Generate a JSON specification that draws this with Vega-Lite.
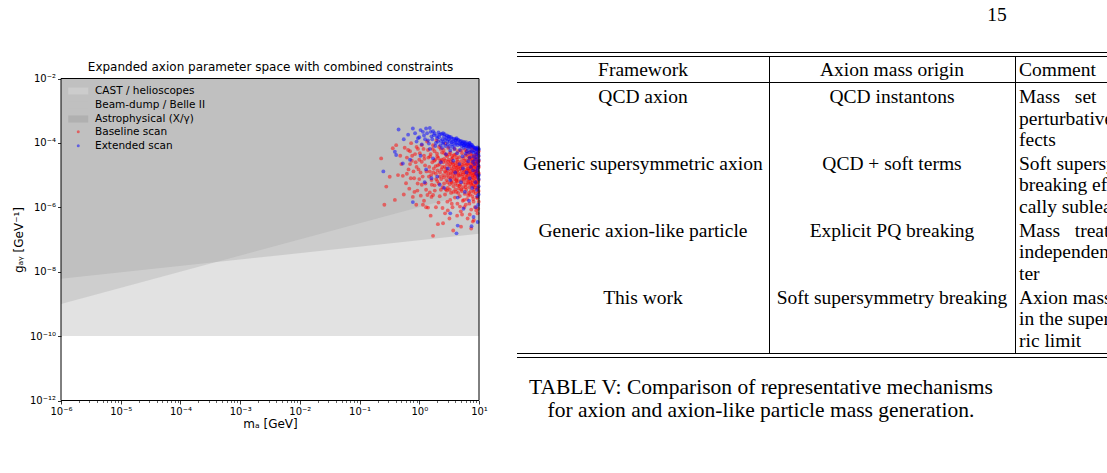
{
  "$schema": "https://vega.github.io/schema/vega-lite/v6.json",
  "width": 1107,
  "height": 473,
  "padding": 0,
  "autosize": {"type": "none"},
  "background": "white",
  "config": {"view": {"stroke": null}, "font": "DejaVu Sans"},
  "datasets": {
    "cast": [{"m": 1e-6, "lo": 1e-10, "hi": 0.01}, {"m": 10, "lo": 1e-10, "hi": 0.01}],
    "beam": [{"m": 1e-6, "lo": 6e-9, "hi": 0.01}, {"m": 10, "lo": 1.5e-7, "hi": 0.01}],
    "astro": [{"m": 1e-6, "lo": 1e-9, "hi": 0.01}, {"m": 10, "lo": 3.2e-6, "hi": 0.01}],
    "frame": [{"m0": 1e-6, "m1": 10, "g0": 1e-12, "g1": 0.01}],
    "baseline": [
      {"m":0.23,"g":3.3e-5},{"m":0.32,"g":8.9e-6},{"m":0.26,"g":1.2e-6},{"m":0.28,"g":4.4e-6},{"m":0.39,"g":1.7e-6},{"m":0.44,"g":1.0e-5},{"m":0.53,"g":9.5e-6},{"m":0.36,"g":6.8e-5},{"m":0.57,"g":7.1e-5},{"m":0.73,"g":9.8e-5},{"m":1.7,"g":1.3e-7},{"m":2.05,"g":3.0e-7},{"m":2.5,"g":3.2e-7},{"m":1.15,"g":1.2e-6},{"m":1.4,"g":9.8e-7},{"m":1.6,"g":2.1e-6},{"m":1.5,"g":2.9e-6},{"m":0.41,"g":8.5e-5},{"m":0.6,"g":5.6e-6},{"m":0.78,"g":2.1e-6},{"m":3.7,"g":1.9e-7},{"m":5.0,"g":2.5e-7},{"m":7.4,"g":2.2e-7},{"m":7.9,"g":3.6e-7},{"m":0.89,"g":1.2e-6},{"m":1.3,"g":1.0e-6},
      {"m":0.48,"g":4.0e-5},{"m":0.5,"g":2.2e-5},{"m":0.62,"g":3.5e-5},{"m":0.66,"g":1.5e-5},{"m":0.7,"g":5.5e-5},{"m":0.75,"g":2.8e-5},{"m":0.82,"g":8.0e-6},{"m":0.85,"g":4.5e-5},{"m":0.9,"g":1.8e-5},{"m":0.95,"g":6.5e-5},{"m":1.0,"g":3.0e-5},{"m":1.05,"g":1.2e-5},{"m":1.1,"g":5.0e-6},{"m":1.1,"g":8.5e-5},{"m":1.2,"g":4.0e-5},{"m":1.25,"g":2.0e-5},{"m":1.3,"g":3.5e-6},{"m":1.35,"g":1.1e-4},{"m":1.4,"g":6.0e-5},{"m":1.45,"g":9.0e-6},{"m":0.68,"g":3.8e-6},{"m":0.93,"g":3.3e-6},{"m":1.0,"g":7.5e-6},{"m":1.2,"g":1.6e-6},{"m":0.55,"g":2.5e-6},
      {"m":1.5,"g":1.3e-5},{"m":1.55,"g":4.5e-5},{"m":1.6,"g":7.0e-6},{"m":1.65,"g":2.5e-5},{"m":1.7,"g":8.5e-5},{"m":1.75,"g":1.6e-5},{"m":1.8,"g":4.8e-6},{"m":1.8,"g":5.5e-5},{"m":1.85,"g":3.0e-5},{"m":1.9,"g":1.1e-5},{"m":1.95,"g":1.2e-4},{"m":2.0,"g":6.5e-6},{"m":2.0,"g":3.8e-5},{"m":2.05,"g":2.0e-5},{"m":2.1,"g":1.4e-6},{"m":2.15,"g":7.5e-5},{"m":2.2,"g":9.0e-6},{"m":2.25,"g":2.8e-5},{"m":2.3,"g":3.5e-6},{"m":2.35,"g":1.5e-5},{"m":2.4,"g":5.0e-5},{"m":2.45,"g":9.5e-7},{"m":1.7,"g":2.4e-6},{"m":1.9,"g":1.0e-6},{"m":2.2,"g":2.2e-6},{"m":1.55,"g":5.5e-7},
      {"m":2.5,"g":1.0e-5},{"m":2.55,"g":6.0e-5},{"m":2.6,"g":3.2e-5},{"m":2.6,"g":5.5e-6},{"m":2.65,"g":1.8e-5},{"m":2.7,"g":2.5e-6},{"m":2.75,"g":9.5e-5},{"m":2.8,"g":1.2e-5},{"m":2.8,"g":4.2e-5},{"m":2.85,"g":7.0e-6},{"m":2.9,"g":2.2e-5},{"m":2.95,"g":1.5e-6},{"m":3.0,"g":4.0e-6},{"m":3.0,"g":1.4e-5},{"m":3.05,"g":7.0e-5},{"m":3.1,"g":3.0e-5},{"m":3.15,"g":8.5e-6},{"m":3.2,"g":1.9e-5},{"m":3.25,"g":5.2e-6},{"m":3.3,"g":5.0e-5},{"m":3.35,"g":1.1e-5},{"m":3.4,"g":2.8e-6},{"m":3.4,"g":2.6e-5},{"m":3.45,"g":6.2e-6},{"m":3.5,"g":1.6e-5},{"m":3.55,"g":4.0e-5},{"m":3.6,"g":9.0e-6},{"m":3.6,"g":1.0e-6},{"m":3.65,"g":3.4e-5},{"m":3.7,"g":2.1e-5},{"m":3.75,"g":4.5e-6},{"m":3.8,"g":1.3e-5},{"m":3.85,"g":7.5e-6},{"m":3.9,"g":6.5e-5},{"m":3.95,"g":2.0e-6},{"m":4.0,"g":2.4e-5},{"m":2.7,"g":6.5e-7},{"m":3.2,"g":4.5e-7},{"m":3.0,"g":8.0e-7},{"m":3.5,"g":1.3e-6},{"m":2.9,"g":3.3e-6},{"m":3.3,"g":1.7e-6},
      {"m":4.05,"g":5.5e-6},{"m":4.1,"g":1.1e-5},{"m":4.1,"g":4.4e-5},{"m":4.15,"g":3.0e-6},{"m":4.2,"g":1.7e-5},{"m":4.25,"g":8.0e-6},{"m":4.3,"g":3.0e-5},{"m":4.35,"g":1.3e-6},{"m":4.4,"g":1.2e-5},{"m":4.45,"g":5.5e-5},{"m":4.5,"g":6.5e-6},{"m":4.5,"g":2.2e-5},{"m":4.6,"g":3.8e-6},{"m":4.6,"g":1.5e-5},{"m":4.65,"g":9.5e-6},{"m":4.7,"g":3.6e-5},{"m":4.75,"g":2.2e-6},{"m":4.8,"g":1.9e-5},{"m":4.85,"g":5.0e-6},{"m":4.9,"g":1.1e-5},{"m":4.95,"g":7.5e-7},{"m":5.0,"g":2.7e-5},{"m":5.05,"g":7.0e-6},{"m":5.1,"g":1.4e-5},{"m":5.15,"g":3.2e-6},{"m":5.2,"g":4.8e-5},{"m":5.25,"g":9.0e-6},{"m":5.3,"g":1.8e-5},{"m":5.35,"g":1.6e-6},{"m":5.4,"g":4.2e-6},{"m":5.45,"g":3.3e-5},{"m":5.5,"g":1.2e-5},{"m":5.55,"g":6.0e-6},{"m":5.6,"g":2.3e-5},{"m":5.65,"g":1.0e-6},{"m":5.7,"g":8.0e-6},{"m":5.75,"g":1.5e-5},{"m":5.8,"g":2.6e-6},{"m":5.85,"g":6.0e-5},{"m":5.9,"g":4.0e-5},{"m":5.95,"g":5.0e-6},{"m":6.0,"g":2.0e-5},{"m":6.05,"g":1.05e-5},{"m":6.1,"g":3.5e-6},{"m":6.15,"g":2.9e-5},{"m":6.2,"g":7.0e-6},{"m":6.25,"g":1.35e-5},{"m":6.3,"g":1.8e-6},{"m":6.35,"g":4.6e-5},{"m":6.4,"g":9.5e-6},{"m":6.45,"g":4.5e-7},{"m":4.3,"g":5.5e-7},{"m":5.2,"g":6.0e-7},{"m":6.0,"g":1.2e-6},{"m":4.8,"g":1.05e-6},
      {"m":6.5,"g":2.4e-5},{"m":6.55,"g":5.5e-6},{"m":6.6,"g":1.6e-5},{"m":6.65,"g":3.8e-5},{"m":6.7,"g":1.1e-5},{"m":6.75,"g":2.8e-6},{"m":6.8,"g":7.5e-6},{"m":6.85,"g":2.0e-5},{"m":6.9,"g":1.3e-6},{"m":6.95,"g":4.2e-6},{"m":7.0,"g":3.1e-5},{"m":7.05,"g":1.3e-5},{"m":7.1,"g":6.5e-6},{"m":7.15,"g":5.3e-5},{"m":7.2,"g":9.0e-6},{"m":7.25,"g":2.2e-5},{"m":7.3,"g":3.2e-6},{"m":7.35,"g":1.6e-5},{"m":7.4,"g":8.5e-7},{"m":7.45,"g":5.0e-6},{"m":7.5,"g":2.6e-5},{"m":7.55,"g":1.15e-5},{"m":7.6,"g":4.0e-5},{"m":7.65,"g":7.0e-6},{"m":7.7,"g":1.9e-5},{"m":7.75,"g":2.2e-6},{"m":7.8,"g":1.4e-5},{"m":7.85,"g":5.8e-6},{"m":7.9,"g":3.0e-5},{"m":7.95,"g":1.0e-5},{"m":8.0,"g":4.6e-6},{"m":8.05,"g":2.1e-5},{"m":8.1,"g":1.5e-6},{"m":8.15,"g":8.0e-6},{"m":8.2,"g":1.7e-5},{"m":8.25,"g":6.0e-5},{"m":8.3,"g":3.5e-6},{"m":8.35,"g":1.25e-5},{"m":8.4,"g":2.7e-5},{"m":8.45,"g":6.5e-6},{"m":8.5,"g":9.5e-6},{"m":8.55,"g":1.0e-6},{"m":8.6,"g":3.6e-5},{"m":8.65,"g":1.5e-5},{"m":8.7,"g":4.8e-6},{"m":8.75,"g":2.3e-5},{"m":8.8,"g":2.7e-6},{"m":8.85,"g":1.1e-5},{"m":8.9,"g":7.5e-6},{"m":8.95,"g":4.5e-5},{"m":9.0,"g":1.8e-5},{"m":9.05,"g":5.5e-6},{"m":9.1,"g":1.3e-5},{"m":9.15,"g":2.0e-6},{"m":9.2,"g":3.2e-5},{"m":9.25,"g":8.5e-6},{"m":9.3,"g":2.5e-5},{"m":9.35,"g":4.0e-6},{"m":9.4,"g":1.6e-5},{"m":9.45,"g":6.5e-7},{"m":9.5,"g":1.0e-5},{"m":9.55,"g":5.0e-5},{"m":9.6,"g":6.0e-6},{"m":9.65,"g":2.0e-5},{"m":9.7,"g":3.0e-6},{"m":9.75,"g":1.2e-5},{"m":9.8,"g":3.8e-5},{"m":9.85,"g":7.0e-6},{"m":9.9,"g":1.5e-6},{"m":9.95,"g":2.8e-5},{"m":7.0,"g":6.0e-7},{"m":8.2,"g":4.0e-7},{"m":9.0,"g":8.0e-7},{"m":6.8,"g":8.0e-5},{"m":7.6,"g":7.0e-5},{"m":9.3,"g":6.5e-5},{"m":9.7,"g":9.0e-7},
      {"m":4.2,"g":6.5e-6},{"m":4.4,"g":2.6e-5},{"m":4.55,"g":1.0e-5},{"m":4.7,"g":4.6e-6},{"m":4.9,"g":1.6e-5},{"m":5.05,"g":3.6e-6},{"m":5.2,"g":2.1e-5},{"m":5.35,"g":1.05e-5},{"m":5.5,"g":7.5e-6},{"m":5.7,"g":2.8e-5},{"m":5.85,"g":1.25e-5},{"m":6.0,"g":4.2e-6},{"m":6.15,"g":8.5e-6},{"m":6.3,"g":2.2e-5},{"m":6.45,"g":1.6e-5},{"m":6.6,"g":6.0e-6},{"m":6.75,"g":1.35e-5},{"m":6.9,"g":3.4e-5},{"m":7.05,"g":2.5e-6},{"m":7.2,"g":1.1e-5},{"m":7.35,"g":5.5e-6},{"m":7.5,"g":1.7e-5},{"m":7.65,"g":3.3e-5},{"m":7.8,"g":8.5e-6},{"m":7.95,"g":2.4e-5},{"m":8.1,"g":3.0e-6},{"m":8.25,"g":1.05e-5},{"m":8.4,"g":4.2e-6},{"m":8.55,"g":1.9e-5},{"m":8.7,"g":1.3e-5},{"m":8.85,"g":3.1e-5},{"m":9.0,"g":6.0e-6},{"m":9.15,"g":2.3e-5},{"m":9.3,"g":9.5e-6},{"m":9.45,"g":1.4e-5},{"m":9.6,"g":4.0e-6},{"m":9.75,"g":2.6e-5},{"m":9.9,"g":1.1e-5},{"m":9.95,"g":1.8e-5},{"m":9.85,"g":3.2e-6},{"m":9.5,"g":1.95e-6},{"m":8.0,"g":1.8e-6},{"m":6.6,"g":2.3e-6},{"m":5.6,"g":1.7e-6},{"m":9.2,"g":4.5e-5},{"m":8.3,"g":4.0e-5},{"m":7.3,"g":4.5e-5},{"m":6.2,"g":5.5e-5},{"m":5.0,"g":5.8e-5},{"m":9.9,"g":5.5e-5},
      {"m":0.62,"g":1.1e-5},{"m":0.65,"g":6.0e-5},{"m":0.7,"g":2.2e-5},{"m":0.72,"g":8.0e-6},{"m":0.76,"g":4.0e-5},{"m":0.8,"g":1.3e-5},{"m":0.83,"g":3.0e-6},{"m":0.87,"g":2.5e-5},{"m":0.9,"g":7.5e-5},{"m":0.94,"g":5.5e-6},{"m":0.97,"g":1.5e-5},{"m":1.02,"g":4.8e-5},{"m":1.06,"g":2.3e-6},{"m":1.1,"g":2.6e-5},{"m":1.14,"g":9.0e-6},{"m":1.18,"g":6.5e-5},{"m":1.22,"g":3.2e-5},{"m":1.27,"g":5.5e-6},{"m":1.32,"g":1.3e-5},{"m":1.37,"g":2.4e-6},{"m":1.42,"g":3.5e-5},{"m":1.47,"g":1.8e-5},
      {"m":1.52,"g":3.8e-5},{"m":1.58,"g":1.0e-5},{"m":1.62,"g":5.0e-6},{"m":1.68,"g":6.5e-5},{"m":1.72,"g":1.2e-5},{"m":1.78,"g":2.8e-5},{"m":1.82,"g":3.3e-6},{"m":1.88,"g":1.9e-5},{"m":1.92,"g":7.5e-6},{"m":1.98,"g":4.6e-5},{"m":2.02,"g":1.4e-5},{"m":2.08,"g":3.4e-5},{"m":2.12,"g":5.5e-6},{"m":2.18,"g":2.2e-5},{"m":2.22,"g":1.2e-5},{"m":2.28,"g":6.5e-5},{"m":2.33,"g":7.5e-6},{"m":2.38,"g":3.0e-5},{"m":2.42,"g":1.8e-5},{"m":2.47,"g":4.2e-6},{"m":2.52,"g":2.5e-5},{"m":2.58,"g":8.5e-6},{"m":2.63,"g":4.8e-5},{"m":2.68,"g":1.3e-5},{"m":2.73,"g":2.8e-5},{"m":2.78,"g":3.6e-6},{"m":2.83,"g":1.6e-5},{"m":2.88,"g":9.5e-6},{"m":2.93,"g":3.8e-5},{"m":2.98,"g":6.0e-6},
      {"m":3.05,"g":2.6e-5},{"m":3.12,"g":1.1e-5},{"m":3.18,"g":4.4e-5},{"m":3.24,"g":3.5e-6},{"m":3.3,"g":2.2e-5},{"m":3.36,"g":8.0e-6},{"m":3.42,"g":1.4e-5},{"m":3.48,"g":3.2e-5},{"m":3.54,"g":5.8e-6},{"m":3.6,"g":2.4e-5},{"m":3.66,"g":1.15e-5},{"m":3.72,"g":3.0e-6},{"m":3.78,"g":1.8e-5},{"m":3.84,"g":4.2e-5},{"m":3.9,"g":9.5e-6},{"m":3.96,"g":1.5e-5},{"m":4.02,"g":3.6e-6},{"m":4.08,"g":2.0e-5},{"m":4.14,"g":7.0e-6},{"m":4.22,"g":3.5e-5},{"m":4.28,"g":1.35e-5},{"m":4.36,"g":4.8e-6},{"m":4.42,"g":1.8e-5},{"m":4.48,"g":2.8e-6}
    ],
    "extended": [
      {"m":0.45,"g":2.6e-4},{"m":0.78,"g":2.8e-4},{"m":1.15,"g":2.2e-4},{"m":1.3,"g":2.8e-4},{"m":1.5,"g":2.9e-4},{"m":1.7,"g":2.3e-4},{"m":2.2,"g":1.8e-4},{"m":2.5,"g":2.0e-4},{"m":3.2,"g":1.55e-4},{"m":4.2,"g":1.4e-4},{"m":5.4,"g":1.1e-4},{"m":7.0,"g":9.8e-5},{"m":7.9,"g":7.6e-5},{"m":0.39,"g":5.3e-5},{"m":0.25,"g":1.3e-5},{"m":0.53,"g":2.3e-5},{"m":0.78,"g":1.45e-6},{"m":4.2,"g":1.55e-7},{"m":4.4,"g":2.7e-7},{"m":0.41,"g":4.2e-5},{"m":1.23,"g":6.0e-6},
      {"m":1.0,"g":1.5e-4},{"m":1.1,"g":9.0e-5},{"m":1.2,"g":1.7e-4},{"m":1.4,"g":1.2e-4},{"m":1.6,"g":1.6e-4},{"m":1.8,"g":2.0e-4},{"m":1.9,"g":1.0e-4},{"m":2.0,"g":1.4e-4},{"m":2.1,"g":2.1e-4},{"m":2.3,"g":1.15e-4},{"m":2.4,"g":7.0e-5},{"m":2.6,"g":1.6e-4},{"m":2.7,"g":1.25e-4},{"m":2.9,"g":1.7e-4},{"m":3.0,"g":9.0e-5},{"m":3.1,"g":1.3e-4},{"m":3.4,"g":1.5e-4},{"m":3.5,"g":1.05e-4},{"m":3.6,"g":7.5e-5},{"m":3.8,"g":1.35e-4},{"m":4.0,"g":1.0e-4},{"m":4.1,"g":1.3e-4},{"m":4.4,"g":8.5e-5},{"m":4.6,"g":1.2e-4},{"m":4.8,"g":6.0e-5},{"m":5.0,"g":1.15e-4},{"m":5.2,"g":9.5e-5},{"m":5.5,"g":7.0e-5},{"m":5.7,"g":1.05e-4},{"m":5.9,"g":8.0e-5},{"m":6.1,"g":1.05e-4},{"m":6.3,"g":5.5e-5},{"m":6.5,"g":9.2e-5},{"m":6.7,"g":7.5e-5},{"m":6.9,"g":1.0e-4},{"m":7.2,"g":6.0e-5},{"m":7.4,"g":8.8e-5},{"m":7.7,"g":8.5e-5},{"m":8.0,"g":5.0e-5},{"m":8.2,"g":7.2e-5},{"m":8.5,"g":7.0e-5},{"m":8.8,"g":6.8e-5},{"m":9.0,"g":4.5e-5},{"m":9.2,"g":6.4e-5},{"m":9.5,"g":6.0e-5},{"m":9.8,"g":6.8e-5},{"m":9.9,"g":4.0e-5},{"m":4.3,"g":4.8e-5},{"m":3.3,"g":5.8e-5},{"m":5.3,"g":3.8e-5},{"m":7.0,"g":3.5e-5},{"m":8.6,"g":3.0e-5},{"m":9.6,"g":2.5e-5},{"m":6.0,"g":4.6e-5},{"m":2.8,"g":4.5e-5},{"m":1.5,"g":6.5e-5},{"m":0.9,"g":1.1e-4},{"m":0.65,"g":1.8e-4},{"m":0.55,"g":1.3e-4},
      {"m":0.7,"g":3.0e-5},{"m":1.05,"g":4.0e-5},{"m":1.3,"g":1.5e-5},{"m":1.7,"g":3.3e-5},{"m":2.0,"g":9.0e-6},{"m":2.3,"g":2.5e-5},{"m":2.6,"g":4.0e-6},{"m":3.0,"g":1.6e-5},{"m":3.3,"g":7.0e-6},{"m":3.7,"g":2.8e-5},{"m":4.0,"g":1.2e-5},{"m":4.4,"g":2.0e-6},{"m":4.7,"g":2.2e-5},{"m":5.0,"g":6.0e-6},{"m":5.4,"g":1.6e-5},{"m":5.8,"g":3.0e-6},{"m":6.2,"g":1.2e-5},{"m":6.6,"g":2.7e-5},{"m":7.0,"g":8.0e-6},{"m":7.3,"g":1.8e-5},{"m":7.7,"g":4.0e-6},{"m":8.0,"g":1.4e-5},{"m":8.4,"g":2.2e-5},{"m":8.7,"g":6.0e-6},{"m":9.0,"g":1.1e-5},{"m":9.3,"g":3.5e-6},{"m":9.6,"g":1.7e-5},{"m":9.9,"g":7.5e-6},{"m":9.7,"g":1.2e-6},{"m":9.4,"g":2.2e-6},{"m":8.9,"g":1.0e-6},{"m":9.85,"g":4.5e-6},{"m":9.95,"g":1.0e-5},{"m":9.8,"g":2.0e-5},{"m":6.8,"g":1.6e-6},{"m":5.5,"g":9.0e-7},{"m":8.1,"g":5.0e-7},{"m":9.5,"g":3.5e-7},{"m":7.5,"g":2.6e-7},{"m":3.3,"g":6.5e-7},{"m":2.2,"g":5.0e-6},{"m":1.6,"g":8.0e-6},
      {"m":6.4,"g":6.8e-5},{"m":7.1,"g":8.0e-5},{"m":7.6,"g":5.5e-5},{"m":8.3,"g":5.8e-5},{"m":8.9,"g":5.2e-5},{"m":9.4,"g":7.2e-5},{"m":9.7,"g":4.8e-5},{"m":9.95,"g":6.2e-5},{"m":9.1,"g":3.6e-5},{"m":8.1,"g":3.8e-5},{"m":6.8,"g":5.0e-5},{"m":5.6,"g":8.5e-5},{"m":4.9,"g":9.0e-5},{"m":3.9,"g":6.5e-5},{"m":2.5,"g":9.5e-5},{"m":9.9,"g":3.0e-5},{"m":9.6,"g":9.0e-6},{"m":9.85,"g":2.5e-6},{"m":9.3,"g":1.4e-5},{"m":7.9,"g":2.6e-5},
      {"m":0.85,"g":2.0e-4},{"m":0.95,"g":1.4e-4},{"m":1.05,"g":2.5e-4},{"m":1.25,"g":1.3e-4},{"m":1.35,"g":2.0e-4},{"m":1.45,"g":9.5e-5},{"m":1.55,"g":2.2e-4},{"m":1.65,"g":1.3e-4},{"m":1.75,"g":1.75e-4},{"m":1.85,"g":8.0e-5},{"m":1.95,"g":1.65e-4},{"m":2.05,"g":1.1e-4},{"m":2.15,"g":1.5e-4},{"m":2.25,"g":8.5e-5},{"m":2.35,"g":1.9e-4},{"m":2.45,"g":1.3e-4},{"m":2.55,"g":1.05e-4},{"m":2.65,"g":1.85e-4},{"m":2.75,"g":8.0e-5},{"m":2.85,"g":1.4e-4},{"m":2.95,"g":1.1e-4},{"m":3.05,"g":1.6e-4},{"m":3.15,"g":7.5e-5},{"m":3.25,"g":1.15e-4},{"m":3.45,"g":9.0e-5},{"m":3.55,"g":1.35e-4},{"m":3.7,"g":1.1e-4},{"m":3.9,"g":8.5e-5},{"m":4.05,"g":1.2e-4},{"m":4.25,"g":1.0e-4},{"m":4.45,"g":1.25e-4},{"m":4.65,"g":9.5e-5},{"m":4.85,"g":1.1e-4},{"m":5.1,"g":8.0e-5},{"m":5.35,"g":1.0e-4},{"m":5.65,"g":8.5e-5},{"m":5.95,"g":9.5e-5},{"m":6.25,"g":8.0e-5},{"m":6.6,"g":8.8e-5},{"m":7.3,"g":7.5e-5}
    ],
    "hrules": [{"edge": 0}, {"edge": 1}, {"edge": 2}, {"edge": 3}, {"edge": 4}],
    "vrules": [{"bound": 1}, {"bound": 2}],
    "cells": [
      {"row": 0, "col": 0, "text": "Framework"},
      {"row": 0, "col": 1, "text": "Axion mass origin"},
      {"row": 1, "col": 0, "text": "QCD axion"},
      {"row": 1, "col": 1, "text": "QCD instantons"},
      {"row": 2, "col": 0, "text": "Generic supersymmetric axion"},
      {"row": 2, "col": 1, "text": "QCD + soft terms"},
      {"row": 3, "col": 0, "text": "Generic axion-like particle"},
      {"row": 3, "col": 1, "text": "Explicit PQ breaking"},
      {"row": 4, "col": 0, "text": "This work"},
      {"row": 4, "col": 1, "text": "Soft supersymmetry breaking"}
    ],
    "comments": [
      {"row": 0, "col": 2, "text": "Comment"},
      {"row": 1, "col": 2, "text": "Mass\u00a0\u00a0\u00a0set\u00a0\u00a0\u00a0by non-\nperturbative QCD ef-\nfects"},
      {"row": 2, "col": 2, "text": "Soft supersymmetry\nbreaking effects typi-\ncally subleading"},
      {"row": 3, "col": 2, "text": "Mass\u00a0\u00a0\u00a0treated\u00a0\u00a0\u00a0as an\nindependent parame-\nter"},
      {"row": 4, "col": 2, "text": "Axion mass vanishes\nin the supersymmet-\nric limit"}
    ],
    "caption": [{"part": "caption", "text": "TABLE V: Comparison of representative mechanisms\nfor axion and axion-like particle mass generation."}],
    "folio": [{"part": "folio", "text": "15"}]
  },
  "layer": [
    {
      "layer": [
        {
          "data": {"name": "cast"},
          "mark": {"type": "area", "opacity": 0.65},
          "encoding": {
            "x": {
              "field": "m", "type": "quantitative",
              "scale": {"type": "log", "domain": [1e-6, 10], "range": [61, 479], "nice": false},
              "axis": {
                "orient": "bottom", "offset": -72.5,
                "values": [1e-6, 1e-5, 1e-4, 0.001, 0.01, 0.1, 1, 10],
                "labelExpr": "'10' + replace(replace(replace(replace(replace(replace(replace(replace(replace('' + round(log(datum.value) / LN10), '-', '⁻'), '0', '⁰'), '1', '¹'), '2', '²'), '3', '³'), '4', '⁴'), '5', '⁵'), '6', '⁶'), '8', '⁸')",
                "domain": false, "grid": false,
                "tickSize": 3.5, "tickWidth": 0.8, "tickColor": "black",
                "labelFont": "DejaVu Sans", "labelFontSize": 10, "labelColor": "black", "labelPadding": 2,
                "labelFlush": false, "labelOverlap": false,
                "title": "mₐ [GeV]", "titleFont": "DejaVu Sans", "titleFontSize": 12, "titleFontWeight": "normal", "titleColor": "black", "titlePadding": 2
              }
            },
            "y": {
              "field": "lo", "type": "quantitative",
              "scale": {"type": "log", "domain": [1e-12, 0.01], "range": [400.5, 78.5], "nice": false},
              "axis": {
                "orient": "left", "offset": -61,
                "values": [1e-12, 1e-10, 1e-8, 1e-6, 1e-4, 0.01],
                "labelExpr": "'10' + replace(replace(replace(replace(replace(replace(replace(replace(replace('' + round(log(datum.value) / LN10), '-', '⁻'), '0', '⁰'), '1', '¹'), '2', '²'), '3', '³'), '4', '⁴'), '5', '⁵'), '6', '⁶'), '8', '⁸')",
                "domain": false, "grid": false,
                "tickSize": 3.5, "tickWidth": 0.8, "tickColor": "black",
                "labelFont": "DejaVu Sans", "labelFontSize": 10, "labelColor": "black", "labelPadding": 2,
                "labelFlush": false, "labelOverlap": false,
                "title": "gₐᵧ [GeV⁻¹]", "titleFont": "DejaVu Sans", "titleFontSize": 12, "titleFontWeight": "normal", "titleColor": "black", "titlePadding": 4
              }
            },
            "y2": {"field": "hi"},
            "fill": {
              "datum": "CAST / helioscopes", "type": "nominal",
              "scale": {
                "domain": ["CAST / helioscopes", "Beam-dump / Belle II", "Astrophysical (X/γ)"],
                "range": ["#d3d3d3", "#c0c0c0", "#a8a8a8"]
              },
              "legend": {
                "orient": "none", "legendX": 68, "legendY": 85.75, "title": null, "padding": 0,
                "symbolType": "M-2,-0.7H2V0.7H-2Z", "symbolSize": 100, "symbolOffset": 5,
                "symbolStrokeWidth": 0, "symbolOpacity": 0.65,
                "labelOffset": 11.5, "labelFont": "DejaVu Sans", "labelFontSize": 10.5, "labelColor": "black",
                "rowPadding": 3
              }
            }
          }
        },
        {
          "data": {"name": "beam"},
          "mark": {"type": "area", "opacity": 0.65},
          "encoding": {
            "x": {"field": "m", "type": "quantitative", "axis": null},
            "y": {"field": "lo", "type": "quantitative"},
            "y2": {"field": "hi"},
            "fill": {"datum": "Beam-dump / Belle II", "type": "nominal"}
          }
        },
        {
          "data": {"name": "astro"},
          "mark": {"type": "area", "opacity": 0.33},
          "encoding": {
            "x": {"field": "m", "type": "quantitative", "axis": null},
            "y": {"field": "lo", "type": "quantitative"},
            "y2": {"field": "hi"},
            "fill": {"datum": "Astrophysical (X/γ)", "type": "nominal"}
          }
        },
        {
          "data": {"name": "baseline"},
          "mark": {"type": "circle", "size": 15, "opacity": 0.5},
          "encoding": {
            "x": {
              "field": "m", "type": "quantitative",
              "axis": {
                "orient": "top", "offset": -78.5, "domain": false, "ticks": false, "labels": false, "grid": false,
                "title": "Expanded axion parameter space with combined constraints",
                "titleFont": "DejaVu Sans", "titleFontSize": 12, "titleFontWeight": "normal", "titleColor": "black", "titlePadding": 5
              }
            },
            "y": {"field": "g", "type": "quantitative"},
            "color": {
              "datum": "Baseline scan", "type": "nominal",
              "scale": {"domain": ["Baseline scan", "Extended scan"], "range": ["#ff0000", "#0000ff"]},
              "legend": {
                "orient": "none", "legendX": 68, "legendY": 126.5, "title": null, "padding": 0,
                "symbolType": "circle", "symbolSize": 9, "symbolOffset": 5,
                "symbolStrokeWidth": 0, "symbolOpacity": 0.5,
                "labelOffset": 11.5, "labelFont": "DejaVu Sans", "labelFontSize": 10.5, "labelColor": "black",
                "rowPadding": 3
              }
            }
          }
        },
        {
          "data": {"name": "extended"},
          "mark": {"type": "circle", "size": 15, "opacity": 0.5},
          "encoding": {
            "x": {"field": "m", "type": "quantitative", "axis": null},
            "y": {"field": "g", "type": "quantitative"},
            "color": {"datum": "Extended scan", "type": "nominal"}
          }
        },
        {
          "data": {"name": "frame"},
          "mark": {"type": "rect", "fillOpacity": 0, "stroke": "black", "strokeWidth": 1},
          "encoding": {
            "x": {
              "field": "m0", "type": "quantitative",
              "axis": {
                "orient": "bottom", "offset": -72.5, "labels": false, "domain": false, "grid": false, "title": null,
                "tickSize": 2, "tickWidth": 0.6, "tickColor": "black",
                "values": [2e-6,3e-6,4e-6,5e-6,6e-6,7e-6,8e-6,9e-6,2e-5,3e-5,4e-5,5e-5,6e-5,7e-5,8e-5,9e-5,2e-4,3e-4,4e-4,5e-4,6e-4,7e-4,8e-4,9e-4,0.002,0.003,0.004,0.005,0.006,0.007,0.008,0.009,0.02,0.03,0.04,0.05,0.06,0.07,0.08,0.09,0.2,0.3,0.4,0.5,0.6,0.7,0.8,0.9,2,3,4,5,6,7,8,9]
              }
            },
            "x2": {"field": "m1"},
            "y": {"field": "g0", "type": "quantitative"},
            "y2": {"field": "g1"}
          }
        }
      ],
      "resolve": {"axis": {"x": "independent"}}
    },
    {
      "layer": [
        {
          "layer": [
            {
              "data": {"name": "hrules"},
              "mark": {"type": "rule", "stroke": "black", "strokeWidth": 1},
              "encoding": {
                "y": {"field": "edge", "type": "quantitative", "scale": {"domain": [0, 1, 2, 3, 4], "range": [52.5, 56.5, 82.5, 353.5, 357.5], "nice": false, "zero": false}, "axis": null},
                "x": {"datum": 0, "type": "quantitative", "scale": {"domain": [0, 1, 2, 3], "range": [517, 769.5, 1015.5, 1107], "nice": false, "zero": false}, "axis": null},
                "x2": {"datum": 3}
              }
            },
            {
              "data": {"name": "vrules"},
              "mark": {"type": "rule", "stroke": "black", "strokeWidth": 1},
              "encoding": {
                "x": {"field": "bound", "type": "quantitative", "axis": null},
                "y": {"datum": 1, "type": "quantitative", "axis": null},
                "y2": {"datum": 3}
              }
            }
          ]
        },
        {
          "layer": [
            {
              "data": {"name": "cells"},
              "mark": {"type": "text", "align": "center", "baseline": "alphabetic", "font": "Liberation Serif", "fontSize": 19.5, "color": "black", "lineBreak": "\n", "lineHeight": 21.3},
              "encoding": {
                "x": {"field": "col", "type": "quantitative", "scale": {"domain": [0, 1, 2], "range": [643, 892, 1019], "nice": false, "zero": false}, "axis": null},
                "y": {"field": "row", "type": "quantitative", "scale": {"domain": [0, 1, 4], "range": [76, 103.3, 304], "nice": false, "zero": false}, "axis": null},
                "text": {"field": "text"}
              }
            },
            {
              "data": {"name": "comments"},
              "mark": {"type": "text", "align": "left", "baseline": "alphabetic", "font": "Liberation Serif", "fontSize": 19.5, "color": "black", "lineBreak": "\n", "lineHeight": 21.3, "clip": true},
              "encoding": {
                "x": {"field": "col", "type": "quantitative", "axis": null},
                "y": {"field": "row", "type": "quantitative", "axis": null},
                "text": {"field": "text"}
              }
            }
          ]
        },
        {
          "layer": [
            {
              "data": {"name": "caption"},
              "mark": {"type": "text", "align": "center", "baseline": "alphabetic", "font": "Liberation Serif", "fontSize": 21.5, "color": "black", "lineBreak": "\n", "lineHeight": 23},
              "encoding": {
                "x": {"field": "part", "type": "nominal", "scale": {"type": "point", "domain": ["caption", "folio"], "range": [761, 997], "padding": 0}, "axis": null},
                "y": {"field": "part", "type": "nominal", "scale": {"type": "point", "domain": ["folio", "caption"], "range": [21, 394.3], "padding": 0}, "axis": null},
                "text": {"field": "text"}
              }
            },
            {
              "data": {"name": "folio"},
              "mark": {"type": "text", "align": "center", "baseline": "alphabetic", "font": "Liberation Serif", "fontSize": 19.5, "color": "black"},
              "encoding": {
                "x": {"field": "part", "type": "nominal", "axis": null},
                "y": {"field": "part", "type": "nominal", "axis": null},
                "text": {"field": "text"}
              }
            }
          ]
        }
      ],
      "resolve": {"scale": {"x": "independent", "y": "independent"}}
    }
  ],
  "resolve": {"scale": {"x": "independent", "y": "independent"}}
}
